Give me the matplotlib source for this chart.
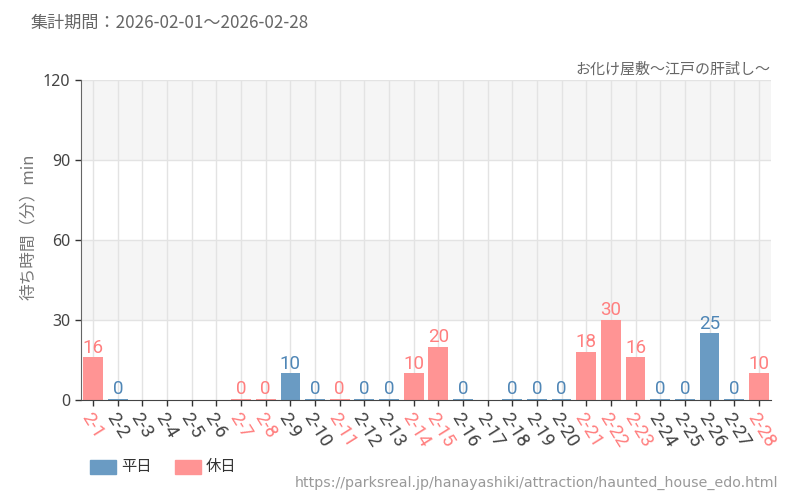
import matplotlib
matplotlib.use("Agg")
import matplotlib.pyplot as plt
import numpy as np

plt.rcParams['font.family'] = ['Noto Sans CJK JP', 'DejaVu Sans']

dates = ["2-1","2-2","2-3","2-4","2-5","2-6","2-7","2-8","2-9","2-10","2-11","2-12","2-13","2-14",
         "2-15","2-16","2-17","2-18","2-19","2-20","2-21","2-22","2-23","2-24","2-25","2-26","2-27","2-28"]
values = [16, 0, None, None, None, None, 0, 0, 10, 0, 0, 0, 0, 10,
          20, 0, None, 0, 0, 0, 18, 30, 16, 0, 0, 25, 0, 10]
holiday = [1, 0, 0, 0, 0, 0, 1, 1, 0, 0, 1, 0, 0, 1,
           1, 0, 0, 0, 0, 0, 1, 1, 1, 0, 0, 0, 0, 1]
yticks = [0, 30, 60, 90, 120]

BLUE = "#6a9bc3"
RED = "#ff9494"
BLUE_T = "#4f86b6"
RED_T = "#ff7f7f"

fig = plt.figure(figsize=(8, 5), dpi=100)
ax = fig.add_axes([0.101, 0.2, 0.863, 0.64])

# background bands
for i, (lo, hi) in enumerate(zip(yticks[:-1], yticks[1:])):
    if i % 2 == 1:
        ax.axhspan(lo, hi, color="#f5f5f5", zorder=0, lw=0)

x = np.arange(len(dates))
for xi in x:
    ax.axvline(xi, color="#e3e3e3", lw=1, zorder=0.5)
for yt in yticks[1:]:
    ax.axhline(yt, color="#e3e3e3", lw=1, zorder=0.5)

cond = ['Roboto', 'DejaVu Sans']
for xi, v, h in zip(x, values, holiday):
    if v is None:
        continue
    col = RED if h else BLUE
    tcol = RED_T if h else BLUE_T
    ax.bar(xi, max(v, 0.5), width=0.8, color=col, zorder=2)
    ax.text(xi, max(v, 0.5) + 0.2, str(v), ha='center', va='bottom', color=tcol,
            fontsize=13.5, family=cond, zorder=3)

ax.set_xlim(-0.5, len(dates) - 0.5)
ax.set_ylim(0, 120)
ax.set_yticks(yticks)
ax.set_yticklabels([str(t) for t in yticks], fontsize=11.5, color="#444444", fontweight='bold',
                   family=['Noto Sans', 'DejaVu Sans'])
ax.set_xticks(x)
ax.set_xticklabels(dates, rotation=-58, ha='left', va='top', rotation_mode='anchor',
                   fontsize=13.5, family=cond)
for lbl, h in zip(ax.get_xticklabels(), holiday):
    lbl.set_color(RED_T if h else "#444444")
ax.tick_params(axis='both', length=4, color="#333333", width=1)
ax.tick_params(axis='x', pad=3)

for s in ['top', 'right']:
    ax.spines[s].set_visible(False)
ax.spines['left'].set_color("#666666")
ax.spines['bottom'].set_color("#444444")

ax.set_ylabel("待ち時間（分）min", fontsize=12, color="#777777")
ax.yaxis.set_label_coords(-0.064, 0.54)

fig.text(0.038, 0.955, "集計期間：2026-02-01～2026-02-28", fontsize=12.3, color="#666666", va='center')
fig.text(0.963, 0.862, "お化け屋敷～江戸の肝試し～", fontsize=10.8, color="#666666", ha='right', va='center')

# legend
fig.patches.append(plt.Rectangle((0.1125, 0.052), 0.0325, 0.028, transform=fig.transFigure, color=BLUE))
fig.text(0.151, 0.066, "平日", fontsize=11, color="#333333", va='center')
fig.patches.append(plt.Rectangle((0.219, 0.052), 0.0325, 0.028, transform=fig.transFigure, color=RED))
fig.text(0.2575, 0.066, "休日", fontsize=11, color="#333333", va='center')

fig.text(0.9725, 0.034, "https://parksreal.jp/hanayashiki/attraction/haunted_house_edo.html",
         fontsize=10.2, color="#999999", ha='right', va='center',
         family=['DejaVu Sans'])

fig.savefig("out.png", dpi=100)
